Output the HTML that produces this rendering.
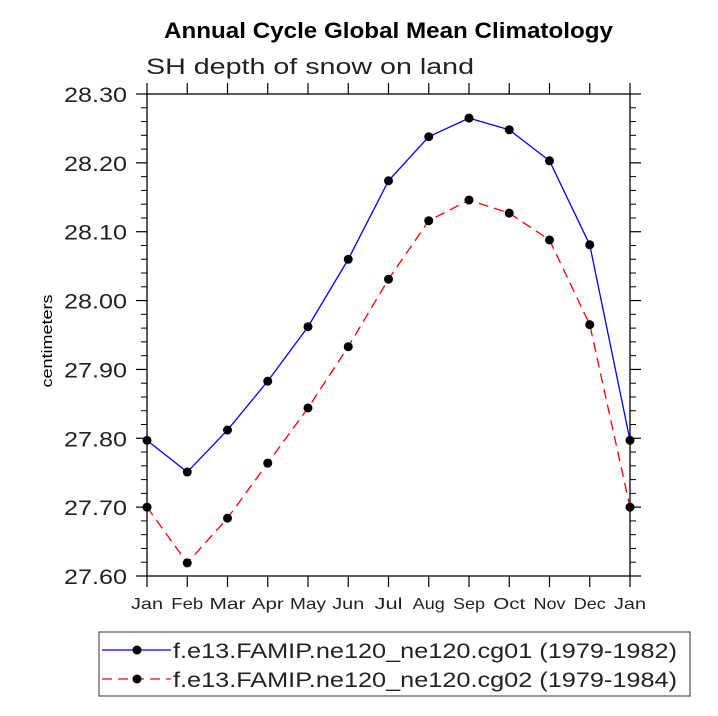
<!DOCTYPE html>
<html><head><meta charset="utf-8"><style>
body{margin:0;background:#fff;}
svg{display:block;font-family:"Liberation Sans","DejaVu Sans",sans-serif;}
</style></head><body>
<svg id="chart" width="718" height="716" viewBox="0 0 718 716" xmlns="http://www.w3.org/2000/svg">
<text x="164" y="38" textLength="449" lengthAdjust="spacingAndGlyphs" font-size="22" font-weight="bold">Annual Cycle Global Mean Climatology</text>
<text x="146" y="74" font-size="22" fill="#222" textLength="328" lengthAdjust="spacingAndGlyphs">SH depth of snow on land</text>
<text transform="translate(52,341) rotate(-90)" text-anchor="middle" font-size="15" textLength="93" lengthAdjust="spacingAndGlyphs">centimeters</text>
<g id="axes"></g>
<g id="series"></g>
<g>
<rect x="99" y="632" width="591" height="64" fill="none" stroke="#555" stroke-width="1.2"/>
<g>
<line x1="102" y1="650" x2="171" y2="650" stroke="#0000ff" stroke-width="1.3"/>
<circle cx="137" cy="650" r="4.5" fill="#000"/>
<text x="173" y="658" font-size="21" fill="#222" textLength="504" lengthAdjust="spacingAndGlyphs">f.e13.FAMIP.ne120_ne120.cg01 (1979-1982)</text>
</g>
<g>
<line x1="102" y1="679" x2="171" y2="679" stroke="#ff0000" stroke-width="1.3" stroke-dasharray="10,6"/>
<circle cx="137" cy="679" r="4.5" fill="#000"/>
<text x="173" y="687" font-size="21" fill="#222" textLength="504" lengthAdjust="spacingAndGlyphs">f.e13.FAMIP.ne120_ne120.cg02 (1979-1984)</text>
</g>
</g>
</svg>
<script>
const months = ["Jan","Feb","Mar","Apr","May","Jun","Jul","Aug","Sep","Oct","Nov","Dec","Jan"];
const cg01 = [27.797,27.751,27.812,27.883,27.962,28.060,28.174,28.238,28.265,28.248,28.203,28.081,27.797];
const cg02 = [27.700,27.619,27.684,27.764,27.844,27.933,28.031,28.116,28.146,28.127,28.088,27.965,27.700];
const yTicks = [27.60,27.70,27.80,27.90,28.00,28.10,28.20,28.30];
const yTickLabels = ["27.60","27.70","27.80","27.90","28.00","28.10","28.20","28.30"];

const NS="http://www.w3.org/2000/svg";
const L=147,R=630,T=94,B=576,yMin=27.6,yMax=28.3;
const xs=i=>L+(R-L)*i/(months.length-1);
const ys=v=>B-(v-yMin)/(yMax-yMin)*(B-T);
function mk(tag,attrs,parent){const e=document.createElementNS(NS,tag);for(const k in attrs)e.setAttribute(k,attrs[k]);parent.appendChild(e);return e;}
const axes=document.getElementById('axes');
const frame=mk('rect',{x:L,y:T,width:R-L,height:B-T,fill:'none',stroke:'#000','stroke-width':1.3},axes);


months.forEach((m,i)=>{
  const x=xs(i);
  mk('line',{x1:x,y1:B,x2:x,y2:B+11,stroke:'#000','stroke-width':1.2},axes);
  mk('line',{x1:x,y1:T,x2:x,y2:T-11,stroke:'#000','stroke-width':1.2},axes);
  const w=(m==="May"||m==="Mar")?36:(m==="Jul"?28:32);
  const t=mk('text',{x:x-w/2,y:B+33,'font-size':16,fill:'#222',textLength:w,lengthAdjust:'spacingAndGlyphs'},axes);
  t.textContent=m;
  
  
});
yTicks.forEach((v,i)=>{
  const y=ys(v);
  mk('line',{x1:L,y1:y,x2:L-11,y2:y,stroke:'#000','stroke-width':1.2},axes);
  mk('line',{x1:R,y1:y,x2:R+11,y2:y,stroke:'#000','stroke-width':1.2},axes);
  const t=mk('text',{x:127-63,y:y+8,'font-size':21,fill:'#222',textLength:63,lengthAdjust:'spacingAndGlyphs'},axes);
  t.textContent=yTickLabels[i];
  
  
  if(i<yTicks.length-1){for(let k=1;k<5;k++){const yy=ys(v+0.02*k);
    mk('line',{x1:L,y1:yy,x2:L-6,y2:yy,stroke:'#000','stroke-width':1},axes);
    mk('line',{x1:R,y1:yy,x2:R+6,y2:yy,stroke:'#000','stroke-width':1},axes);}}
});
const ser=document.getElementById('series');
function draw(vals,color,dash,name){
  const g=mk('g',{},ser);
  
  
  const p=mk('polyline',{points:vals.map((v,i)=>xs(i)+','+ys(v)).join(' '),fill:'none',stroke:color,'stroke-width':1.3},g);
  if(dash)p.setAttribute('stroke-dasharray',dash);
  vals.forEach((v,i)=>{const c=mk('circle',{cx:xs(i),cy:ys(v),r:4.5,fill:'#000'},g);
    
    });
}
draw(cg01,'#0000ff',null,'series-cg01');
draw(cg02,'#ff0000','10,6','series-cg02');
</script>
</body></html>
